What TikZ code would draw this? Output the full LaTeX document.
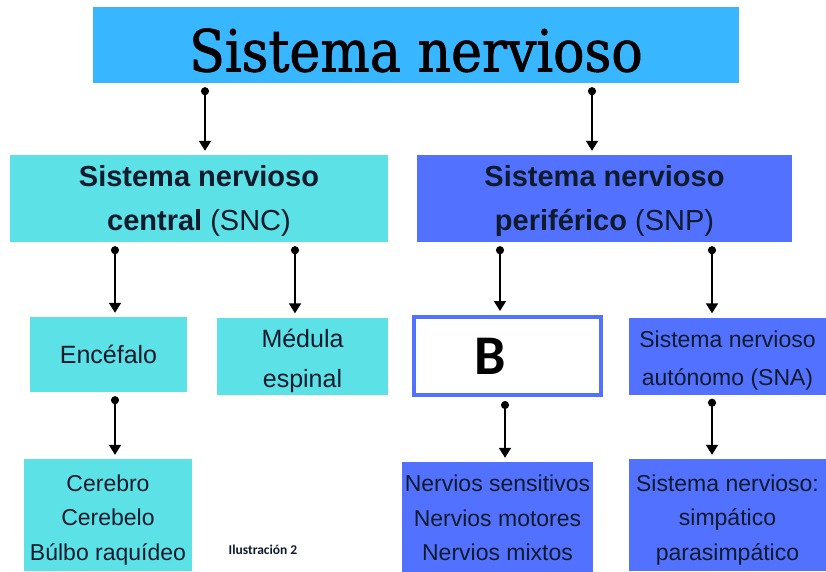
\documentclass[tikz,border=0pt]{standalone}
\usepackage{fontspec}
\setsansfont{Liberation Sans}
\newfontfamily\calfont{Carlito}
\newfontfamily\titlefont{DejaVu Serif}[FakeStretch=0.9, FakeBold=1.2]
\usetikzlibrary{arrows.meta}

\definecolor{topblue}{HTML}{38B6FF}
\definecolor{sncblue}{HTML}{5CE1E6}
\definecolor{snpblue}{HTML}{5271FF}
\definecolor{ink}{HTML}{0E1B2C}

% extra room above the first line, so the text sits a bit lower
\newcommand{\padtop}{\rule{0pt}{1.15em}}

\tikzset{
  box/.style={inner sep=0pt, align=center, text=ink, font=\sffamily},
  sncbox/.style={box, fill=sncblue},
  snpbox/.style={box, fill=snpblue},
  conn/.style={line width=1.8pt, {Circle[length=8pt]}-{Triangle[length=10pt,width=12pt]},
    shorten <=4pt, shorten >=4pt}
}

\begin{document}
\begin{tikzpicture}[x=1pt,y=-1pt]
\useasboundingbox (0,0) rectangle (826,571);

% top
\node[box, fill=topblue, minimum width=646pt, minimum height=76pt, text=black,
  text height=57pt, text depth=4pt,
  font=\titlefont\fontsize{58}{58}\selectfont] (top) at (416,45) {Sistema nervioso};

% second row
\node[sncbox, minimum width=378pt, minimum height=87pt, font=\sffamily\fontsize{29}{44}\selectfont]
  (snc) at (199,198.5) {\rule{0pt}{0.9em}\textbf{Sistema nervioso}\\\textbf{central} (SNC)};
\node[snpbox, minimum width=375pt, minimum height=87pt, font=\sffamily\fontsize{29}{44}\selectfont]
  (snp) at (604.5,198.5) {\rule{0pt}{0.9em}\textbf{Sistema nervioso}\\\textbf{periférico} (SNP)};

% third row
\node[sncbox, minimum width=157pt, minimum height=75pt, font=\sffamily\fontsize{25}{40}\selectfont]
  (enc) at (108.5,354.5) {Encéfalo};
\node[sncbox, minimum width=171pt, minimum height=77pt, font=\sffamily\fontsize{25}{40}\selectfont]
  (med) at (302.5,356) {\padtop Médula\\espinal};
\node[box, fill=white, draw=snpblue, line width=4pt, minimum width=187pt, minimum height=78pt,
  text=black, font=\calfont\bfseries\fontsize{56}{56}\selectfont]
  (bb) at (507.5,356) {\hspace*{-34pt}B};
\node[snpbox, minimum width=197pt, minimum height=77pt, font=\sffamily\fontsize{23}{38}\selectfont]
  (sna) at (727.5,356) {\padtop Sistema nervioso\\autónomo (SNA)};

% bottom row
\node[sncbox, minimum width=168pt, minimum height=112pt, font=\sffamily\fontsize{23}{34.5}\selectfont]
  (cer) at (108,515) {\padtop Cerebro\\Cerebelo\\Búlbo raquídeo};
\node[snpbox, minimum width=191pt, minimum height=112pt, font=\sffamily\fontsize{23}{34.5}\selectfont]
  (ner) at (497.5,518) {Nervios sensitivos\\Nervios motores\\Nervios mixtos};
\node[snpbox, minimum width=197pt, minimum height=112pt, font=\sffamily\fontsize{23}{34.5}\selectfont]
  (sim) at (727.5,515) {\padtop Sistema nervioso:\\simpático\\parasimpático};

\node[text=ink, inner sep=0pt, font=\calfont\bfseries\fontsize{13.5}{16}\selectfont]
  (ilu) at (263,550) {Ilustración 2};

% connectors
\draw[conn] (top.south -| 205,0) -- (snc.north -| 205,0);
\draw[conn] (top.south -| 592,0) -- (snp.north -| 592,0);
\draw[conn] (snc.south -| 115,0) -- (enc.north -| 115,0);
\draw[conn] (snc.south -| 295,0) -- (med.north -| 295,0);
\draw[conn] (snp.south -| 500,0) -- (bb.north -| 500,0);
\draw[conn] (snp.south -| 712,0) -- (sna.north -| 712,0);
\draw[conn] (enc.south -| 115,0) -- (cer.north -| 115,0);
\draw[conn] (bb.south -| 505,0) -- (ner.north -| 505,0);
\draw[conn] (sna.south -| 712,0) -- (sim.north -| 712,0);
\end{tikzpicture}
\end{document}
